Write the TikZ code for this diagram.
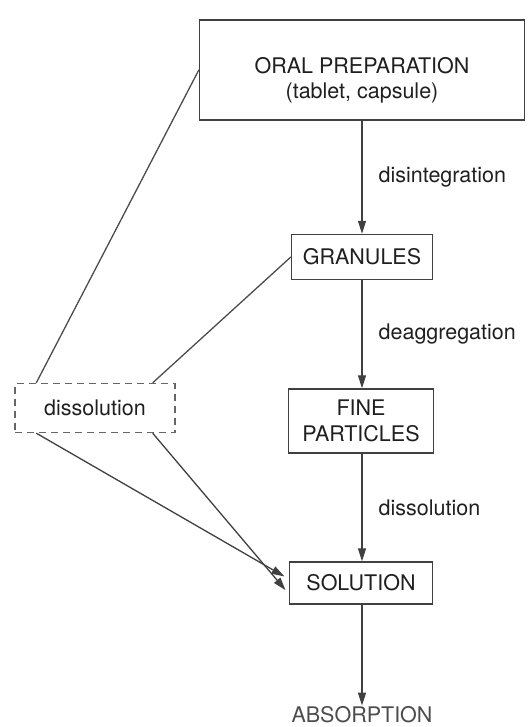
\documentclass[tikz,border=0pt]{standalone}
\usepackage{fontspec}
\setmainfont{TeX Gyre Heros}
\usetikzlibrary{positioning, arrows.meta}

\begin{document}
\begin{tikzpicture}[
    x=1pt, y=-1pt,
    every node/.style={font=\fontsize{21.5}{25.5}\selectfont, text=black!88},
    stagebox/.style={draw=black!75, line width=1.4pt, align=center, inner sep=0pt},
    altbox/.style={stagebox, dashed, dash pattern=on 7pt off 5pt, draw=black!60},
    arrow/.style={-{Triangle[length=13pt, width=8pt]}, line width=1.3pt, draw=black!75},
    link/.style={line width=1.3pt, draw=black!70},
    label/.style={inner sep=0pt, right=16pt}
]
\useasboundingbox (0,0) rectangle (527,727);

% === MAIN PATHWAY ===
\node[stagebox, minimum width=325pt, minimum height=100pt] (oral) at (362,70)
    {\raisebox{-11pt}[\height][\depth]{\begin{tabular}{@{}c@{}}ORAL PREPARATION\\(tablet, capsule)\end{tabular}}};
\node[stagebox, minimum width=141pt, minimum height=45pt] (granules) at (362,257) {GRANULES};
\node[stagebox, minimum width=145pt, minimum height=64pt] (fine) at (361,421) {FINE\\PARTICLES};
\node[stagebox, minimum width=143pt, minimum height=42pt] (solution) at (361,583) {SOLUTION};
\node[inner sep=1pt, text=black!70] (absorption) at (362,715) {ABSORPTION};

\draw[arrow] (oral.south -| granules) -- node[label] {disintegration} (granules.north);
\draw[arrow] (granules.south) -- node[label] {deaggregation} (fine.north -| granules);
\draw[arrow] (fine.south -| granules) -- node[label] {dissolution} (solution.north -| granules);
\draw[arrow] (solution.south -| granules) -- (absorption.north -| granules);

% === DIRECT DISSOLUTION ===
\node[altbox, minimum width=160pt, minimum height=49pt] (diss) at (95,408) {dissolution};

\draw[link] (oral.west) -- ([xshift=22pt]diss.north west);
\draw[link] (granules.west) -- ([xshift=-23pt]diss.north east);
\draw[arrow, shorten >=5pt] ([xshift=22pt]diss.south west) -- ([yshift=4pt]solution.west);
\draw[arrow, shorten >=5pt] ([xshift=-23pt]diss.south east) -- ([yshift=-11pt]solution.west);

\end{tikzpicture}
\end{document}
